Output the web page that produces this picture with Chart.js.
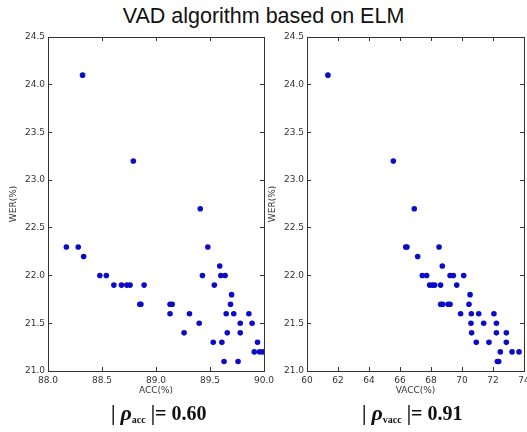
<!DOCTYPE html>
<html>
<head>
<meta charset="utf-8">
<script src="https://cdn.jsdelivr.net/npm/chart.js@4.4.1/dist/chart.umd.min.js"></script>
<style>
  html, body { margin: 0; padding: 0; background: #fff; width: 527px; height: 432px; overflow: hidden; position: relative; }
  canvas { position: absolute; left: 0; top: 0; }
  .title { position: absolute; left: 0; width: 527px; top: 6px; text-align: center; font: 21.5px "Liberation Sans", Arial, sans-serif; line-height: 1; color: #111; }
  .rho { position: absolute; top: 400px; font: bold 20px "Liberation Serif", "Times New Roman", serif; color: #111; white-space: nowrap; }
  .rho i { font-size: 22px; }
  .rho sub { font-size: 10px; vertical-align: -3px; }
</style>
</head>
<body>
<div class="title">VAD algorithm based on ELM</div>
<canvas id="left" width="560" height="432"></canvas>
<canvas id="right" width="560" height="432"></canvas>
<div class="rho" style="left:111px">| <i>ρ</i><sub>acc</sub> |= 0.60</div>
<div class="rho" style="left:362px">| <i>ρ</i><sub>vacc</sub> |= 0.91</div>
<script>
// left panel: ACC(%) vs WER(%)
const accValues = [88.32, 88.79, 89.41, 88.17, 88.28, 88.33, 88.48, 88.54, 88.61, 88.68, 88.73,
  88.76, 88.89, 88.85, 88.86, 89.13, 89.15, 89.13, 89.31, 89.26, 89.40, 89.43, 89.48, 89.54,
  89.53, 89.59, 89.60, 89.64, 89.61, 89.63, 89.65, 89.66, 89.70, 89.69, 89.72, 89.76, 89.78,
  89.78, 89.86, 89.89, 89.94, 89.91, 89.96, 89.99];
const accWer = [24.1, 23.2, 22.7, 22.3, 22.3, 22.2, 22.0, 22.0, 21.9, 21.9, 21.9,
  21.9, 21.9, 21.7, 21.7, 21.7, 21.7, 21.6, 21.6, 21.4, 21.5, 22.0, 22.3, 21.9,
  21.3, 22.1, 22.0, 22.0, 21.3, 21.1, 21.6, 21.4, 21.8, 21.7, 21.6, 21.1, 21.5,
  21.4, 21.6, 21.5, 21.3, 21.2, 21.2, 21.2];

// right panel: VACC(%) vs WER(%)
const vaccValues = [61.35, 65.57, 66.92, 66.37, 66.45, 67.14, 67.44, 67.72, 67.91, 68.09, 68.24,
  68.52, 68.62, 68.73, 68.62, 68.75, 69.10, 69.23, 69.23, 69.44, 69.66, 69.91, 70.11, 70.52,
  70.45, 70.60, 70.58, 70.62, 70.92, 71.08, 71.40, 71.74, 72.06, 72.22, 72.22, 72.28, 72.37,
  72.47, 72.86, 72.86, 73.23, 73.68];
const vaccWer = [24.1, 23.2, 22.7, 22.3, 22.3, 22.2, 22.0, 22.0, 21.9, 21.9, 21.9,
  22.3, 21.9, 22.1, 21.7, 21.7, 21.7, 21.7, 22.0, 22.0, 21.9, 21.6, 22.0, 21.8,
  21.7, 21.6, 21.5, 21.4, 21.3, 21.6, 21.5, 21.3, 21.6, 21.5, 21.4, 21.1, 21.1,
  21.2, 21.4, 21.3, 21.2, 21.2];

const werRange = [21.0, 24.5];
const accRange = [88.0, 90.0];
const vaccRange = [60, 74];

const ink = '#333';
const dotColor = '#0b0bc8';
const tickFont = { family: 'DejaVu Sans', size: 9 };

function inwardGrid() {
  return { drawOnChartArea: false, drawTicks: true, tickLength: -4, color: ink, lineWidth: 1 };
}

function makePanel(id, xs, ys, xRange, xStep, xDigits, xTitle, pad) {
  const points = xs.map((x, i) => ({ x, y: ys[i] }));
  const fmtX = v => v.toFixed(xDigits);
  const fmtY = v => v.toFixed(1);
  return new Chart(document.getElementById(id), {
    type: 'scatter',
    data: { datasets: [{ data: points, backgroundColor: dotColor, borderWidth: 0, pointRadius: 2.8 }] },
    options: {
      responsive: false,
      animation: false,
      layout: { padding: pad },
      plugins: { legend: { display: false }, tooltip: { enabled: false } },
      scales: {
        x: {
          position: 'bottom', min: xRange[0], max: xRange[1],
          ticks: { stepSize: xStep, callback: fmtX, font: tickFont, color: ink, padding: 8, maxRotation: 0, autoSkip: false },
          grid: inwardGrid(),
          border: { display: true, color: ink },
          title: { display: true, text: xTitle, font: tickFont, color: ink, padding: 0 },
          afterFit: s => { s.height = 25; }
        },
        x2: {
          position: 'top', min: xRange[0], max: xRange[1],
          ticks: { stepSize: xStep, display: false },
          grid: inwardGrid(),
          border: { display: true, color: ink },
          afterFit: s => { s.height = 0; }
        },
        y: {
          position: 'left', min: werRange[0], max: werRange[1],
          ticks: { stepSize: 0.5, callback: fmtY, font: tickFont, color: ink, padding: 7 },
          grid: inwardGrid(),
          border: { display: true, color: ink },
          title: { display: true, text: 'WER(%)', font: tickFont, color: ink, padding: 0 },
          afterFit: s => { s.width = 40; }
        },
        y2: {
          position: 'right', min: werRange[0], max: werRange[1],
          ticks: { stepSize: 0.5, display: false },
          grid: inwardGrid(),
          border: { display: true, color: ink },
          afterFit: s => { s.width = 0; }
        }
      }
    }
  });
}

makePanel('left', accValues, accWer, accRange, 0.5, 1, 'ACC(%)',
  { left: 8, top: 37, right: 296, bottom: 36 });
makePanel('right', vaccValues, vaccWer, vaccRange, 2, 0, 'VACC(%)',
  { left: 267, top: 37, right: 36, bottom: 36 });
</script>
</body>
</html>
